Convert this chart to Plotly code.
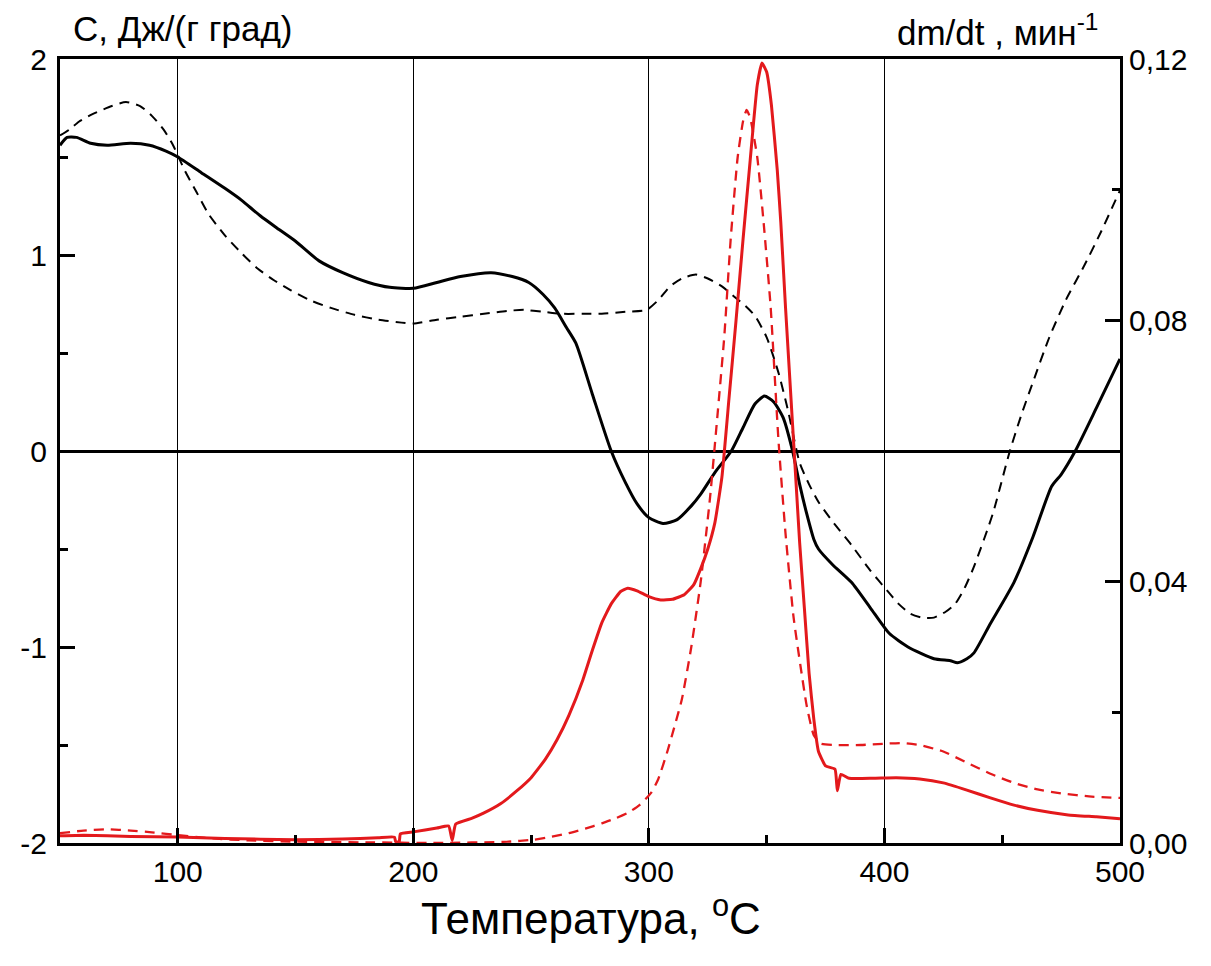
import plotly.graph_objects as go

# ---- Data ----
# Heat capacity C, J/(g K) — solid black
t_c_solid = [50, 53, 57, 63, 70, 80, 88, 95, 100, 110, 120, 127, 135, 143, 150, 160, 170, 181, 190, 200,
             210, 220, 233, 242, 249, 255, 260, 265, 269, 276, 284, 290, 295, 300, 306, 312, 318, 322, 328,
             335, 340, 345, 349, 353, 357, 361, 364, 367, 370, 372, 378, 386, 394, 402, 410, 421, 428, 431,
             435, 438, 445, 455, 463, 471, 475, 481, 490, 500]
c_solid = [1.56, 1.60, 1.60, 1.57, 1.56, 1.57, 1.56, 1.53, 1.50, 1.42, 1.34, 1.28, 1.20, 1.13, 1.07, 0.97,
           0.91, 0.86, 0.835, 0.83, 0.86, 0.89, 0.91, 0.89, 0.86, 0.80, 0.73, 0.63, 0.55, 0.29, 0.0, -0.16,
           -0.27, -0.34, -0.37, -0.35, -0.28, -0.22, -0.11, 0.0, 0.12, 0.24, 0.28, 0.25, 0.17, 0.0, -0.17,
           -0.32, -0.45, -0.50, -0.58, -0.67, -0.80, -0.93, -1.00, -1.06, -1.07, -1.08, -1.06, -1.03, -0.88,
           -0.67, -0.44, -0.18, -0.12, 0.0, 0.22, 0.47]

# Heat capacity C — dashed black
t_c_dash = [50, 54, 58, 64, 72, 78, 84, 89, 94, 98, 103, 108, 113, 120, 127, 134, 141, 148, 156, 165, 175,
            185, 195, 200, 210, 220, 230, 240, 247, 255, 263, 272, 280, 290, 299, 304, 309, 314, 320, 325,
            331, 336, 341, 345, 350, 355, 359, 364, 368, 372, 378, 386, 394, 401, 406, 411, 416, 421, 426,
            430, 434, 438, 446, 453, 458, 463, 470, 477, 485, 492, 500]
c_dash = [1.61, 1.64, 1.68, 1.72, 1.76, 1.78, 1.76, 1.71, 1.64, 1.56, 1.43, 1.32, 1.21, 1.10, 1.01, 0.93,
          0.87, 0.82, 0.77, 0.73, 0.695, 0.67, 0.655, 0.65, 0.67, 0.685, 0.70, 0.715, 0.72, 0.71, 0.70,
          0.70, 0.70, 0.71, 0.72, 0.77, 0.84, 0.88, 0.90, 0.88, 0.84, 0.79, 0.74, 0.69, 0.58, 0.40, 0.21,
          -0.06, -0.17, -0.26, -0.36, -0.48, -0.61, -0.71, -0.78, -0.83, -0.85, -0.85, -0.82, -0.78, -0.70,
          -0.59, -0.32, -0.01, 0.18, 0.35, 0.58, 0.77, 0.95, 1.12, 1.33]

# Mass loss rate dm/dt, 1/min — solid red
t_d_solid = [50, 60, 80, 100, 120, 150, 170, 185, 192, 192.5, 194, 194.5, 200, 210, 215, 216.5, 218, 225,
             230, 237, 244, 250, 256, 261, 266, 272, 276, 280, 284, 288, 291, 295, 300, 305, 310, 315, 319,
             322, 325, 328, 331, 334, 337, 340, 343, 346, 348, 350, 352, 354.5, 356, 358, 360, 362, 364,
             366, 368, 370, 372, 375, 379, 380, 381.5, 385, 395, 405, 415, 425, 435, 445, 455, 465, 478,
             490, 500]
d_solid = [0.0011, 0.0012, 0.0010, 0.0009, 0.0007, 0.0005, 0.0006, 0.0008, 0.0009, 0.0002, 0.0002, 0.0014,
           0.0017, 0.0023, 0.0026, 0.0004, 0.0029, 0.0038, 0.0046, 0.0060, 0.0080, 0.0100, 0.0128, 0.0158,
           0.0195, 0.0250, 0.0295, 0.0337, 0.0366, 0.0385, 0.0390, 0.0386, 0.0377, 0.0372, 0.0373, 0.0380,
           0.0395, 0.0420, 0.0450, 0.0490, 0.0560, 0.0680, 0.0800, 0.0925, 0.1045, 0.1160, 0.1194, 0.1180,
           0.1130, 0.1030, 0.0950, 0.0820, 0.0700, 0.0580, 0.0460, 0.0360, 0.0260, 0.0190, 0.0140, 0.0118,
           0.0113, 0.0080, 0.0105, 0.0099, 0.0099, 0.0100, 0.0098, 0.0092, 0.0081, 0.0069, 0.0058, 0.0050,
           0.0043, 0.0040, 0.0037]

# Mass loss rate dm/dt — dashed red
t_d_dash = [50, 60, 70, 80, 90, 100, 115, 130, 150, 180, 210, 240, 251, 258, 266, 273, 280, 286, 291, 296,
            301, 304, 308, 311, 314, 318, 322, 326, 329, 332, 334.7, 337.7, 340, 341.5, 343, 346, 348.7,
            351.7, 355, 358, 361.4, 364.4, 367, 370, 373, 380, 390, 400, 408, 415, 425, 435, 445, 455, 465,
            475, 488, 500]
d_dash = [0.0015, 0.0019, 0.0021, 0.0019, 0.0016, 0.0012, 0.0007, 0.0004, 0.0002, 0.0001, 0.0, 0.0002,
          0.0005, 0.0009, 0.0015, 0.0022, 0.0030, 0.0038, 0.0046, 0.0058, 0.0077, 0.0098, 0.0142, 0.0180,
          0.0220, 0.0300, 0.0400, 0.0530, 0.0650, 0.0775, 0.0923, 0.1050, 0.1105, 0.1122, 0.1110, 0.1050,
          0.0950, 0.0820, 0.0617, 0.0474, 0.0346, 0.0270, 0.0210, 0.0165, 0.0152, 0.0150, 0.0150, 0.0152,
          0.0153, 0.0150, 0.0140, 0.0123, 0.0106, 0.0092, 0.0082, 0.0076, 0.0071, 0.0069]

x_ticks = [100, 200, 300, 400, 500]
y_ticks = [-2, -1, 0, 1, 2]
y_ticktext = ["-2", "-1", "0", "1", "2"]

FONT = "Liberation Sans, Arial, sans-serif"
RED = "#e3191c"

fig = go.Figure()
fig.add_trace(go.Scatter(x=t_c_dash, y=c_dash, mode="lines",
                         line=dict(color="black", width=2, dash="10px,7px", shape="spline", smoothing=0.6)))
fig.add_trace(go.Scatter(x=t_c_solid, y=c_solid, mode="lines",
                         line=dict(color="black", width=3, shape="spline", smoothing=0.6)))
fig.add_trace(go.Scatter(x=t_d_dash, y=d_dash, mode="lines", yaxis="y2",
                         line=dict(color=RED, width=2.3, dash="10px,7px", shape="spline", smoothing=0.5)))
fig.add_trace(go.Scatter(x=t_d_solid, y=d_solid, mode="lines", yaxis="y2",
                         line=dict(color=RED, width=3, shape="spline", smoothing=0.4)))

tickfont = dict(family=FONT, size=30, color="black")

# The page body adds an 8 px offset, so the figure is sized/margined to compensate.
fig.update_layout(
    width=1203, height=958,
    margin=dict(l=50, r=91, t=51, b=123),
    paper_bgcolor="white", plot_bgcolor="white",
    showlegend=False,
    separators=", ",
    xaxis=dict(range=[50, 500], tickmode="array", tickvals=x_ticks,
               ticks="inside", ticklen=15, tickwidth=2.5, tickcolor="black",
               minor=dict(dtick=50, tick0=0, ticks="inside", ticklen=8, tickwidth=2.5, tickcolor="black",
                          showgrid=False),
               showline=True, linecolor="black", linewidth=3, mirror=True,
               showgrid=True, gridcolor="black", gridwidth=1, zeroline=False,
               tickfont=tickfont),
    yaxis=dict(range=[-2, 2], tickmode="array", tickvals=y_ticks, ticktext=y_ticktext,
               ticks="inside", ticklen=15, tickwidth=2.5, tickcolor="black",
               minor=dict(tickmode="array", tickvals=[-1.5, -0.5, 0.5, 1.5], ticks="inside", ticklen=8,
                          tickwidth=2.5, tickcolor="black", showgrid=False),
               showline=True, linecolor="black", linewidth=3, ticklabelstandoff=4,
               showgrid=False, zeroline=True, zerolinecolor="black", zerolinewidth=2.5,
               tickfont=tickfont),
    yaxis2=dict(range=[0, 0.12], overlaying="y", side="right", dtick=0.04, tick0=0, tickformat=".2f",
                ticks="inside", ticklen=15, tickwidth=2.5, tickcolor="black",
                minor=dict(dtick=0.02, tick0=0, ticks="inside", ticklen=8, tickwidth=2.5, tickcolor="black",
                           showgrid=False),
                showline=True, linecolor="black", linewidth=3,
                showgrid=False, zeroline=False, tickfont=tickfont),
    annotations=[
        dict(text="С, Дж/(г град)", xref="paper", yref="paper", x=0.01, y=1.039,
             xanchor="left", yanchor="middle", showarrow=False,
             font=dict(family=FONT, size=35, color="black")),
        dict(text="dm/dt , мин<sup>-1</sup>", xref="paper", yref="paper", x=0.981, y=1.037,
             xanchor="right", yanchor="middle", showarrow=False,
             font=dict(family=FONT, size=35, color="black")),
        dict(text="Температура, <sup>o</sup>C", xref="paper", yref="paper", x=0.501, y=-0.092,
             xanchor="center", yanchor="middle", showarrow=False,
             font=dict(family=FONT, size=44, color="black")),
    ],
)

fig.write_html("out.html")
